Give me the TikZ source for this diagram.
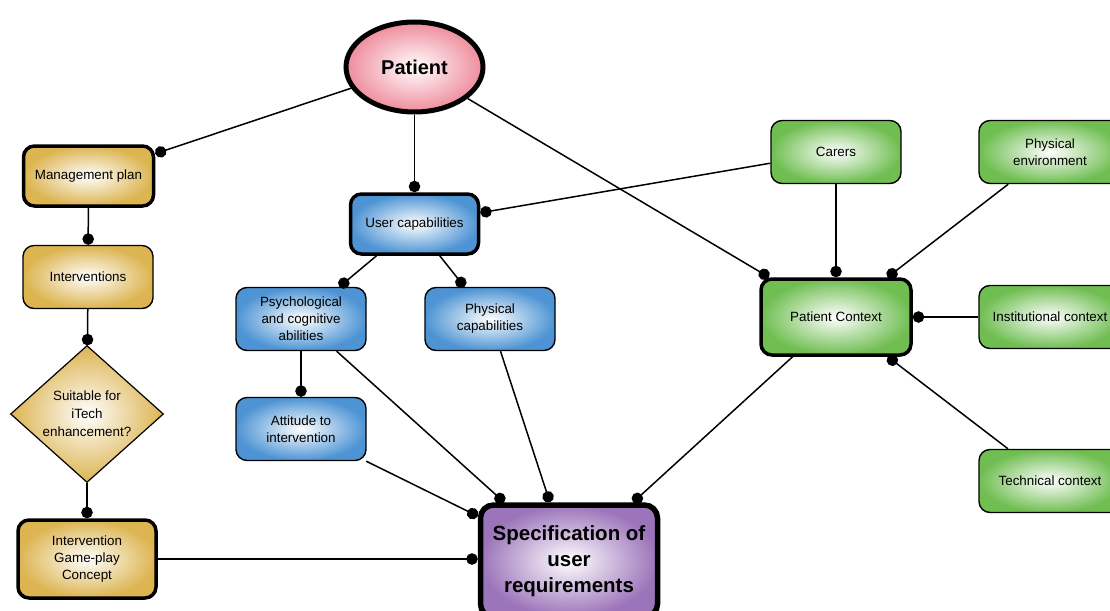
\documentclass[tikz,border=0pt]{standalone}
\usepackage{fontspec}
\setmainfont{Liberation Sans}
\usetikzlibrary{shapes.geometric,arrows.meta}
\definecolor{goldc}{RGB}{220,180,80}
\definecolor{bluec}{RGB}{78,148,212}
\definecolor{greenc}{RGB}{112,190,82}
\definecolor{pinkc}{RGB}{238,140,156}
\definecolor{purplec}{RGB}{156,116,186}
\tikzset{
  box/.style={rounded corners=11pt, draw=black, line width=1.4pt, align=center,
    font=\fontsize{13.4}{17}\selectfont, inner sep=2pt,
    minimum width=130pt, minimum height=63pt},
  heavy/.style={line width=3.5pt},
  goldfill/.style={inner color=white, outer color=goldc},
  bluefill/.style={inner color=white, outer color=bluec},
  greenfill/.style={inner color=white, outer color=greenc},
  link/.style={line width=1.5pt, -{Circle[length=11.5pt,width=11.5pt]}},
}
\begin{document}
\begin{tikzpicture}[x=1pt,y=-1pt]
  \clip (0,0) rectangle (1110,610);
  \fill[white] (0,0) rectangle (1110,610);

  % central patient node
  \node[ellipse, draw=black, line width=5pt, inner color=white, outer color=pinkc,
        minimum width=137pt, minimum height=90pt,
        font=\fontsize{20}{24}\selectfont\bfseries] (patient) at (414.5,67) {Patient};

  % management branch
  \node[box, heavy, goldfill, minimum width=130pt, minimum height=60pt] (mp) at (88.5,176) {Management plan};
  \node[box, goldfill] (int) at (88,277) {Interventions};
  \node[diamond, draw=black, line width=1.2pt, goldfill, aspect=1.12, inner sep=0pt,
        minimum width=153pt, minimum height=137pt, align=center,
        font=\fontsize{13.4}{18}\selectfont] (dia) at (87,414) {Suitable for\\iTech\\enhancement?};
  \node[box, heavy, goldfill, minimum width=138pt, minimum height=78pt] (igc) at (87,559) {Intervention\\Game-play\\Concept};

  % user capabilities branch
  \node[box, heavy, bluefill, minimum width=128pt, minimum height=60pt] (uc) at (414.5,224) {User capabilities};
  \node[box, bluefill] (psych) at (301,319) {Psychological\\and cognitive\\abilities};
  \node[box, bluefill] (physcap) at (490,319) {Physical\\capabilities};
  \node[box, bluefill] (att) at (301,429) {Attitude to\\intervention};

  % requirements
  \node[rounded corners=13pt, draw=black, line width=5.5pt, inner color=white, outer color=purplec,
        minimum width=177pt, minimum height=112pt, align=center,
        font=\fontsize{20.5}{26}\selectfont\bfseries] (spec) at (569,561) {Specification of\\user\\requirements};

  % context branch
  \node[box, greenfill] (carers) at (836,152) {Carers};
  \node[box, greenfill, minimum width=142pt] (pe) at (1050,152) {Physical\\environment};
  \node[box, heavy, greenfill, minimum width=150pt, minimum height=76pt] (pc) at (836,317) {Patient Context};
  \node[box, greenfill, minimum width=142pt] (inst) at (1050,317) {Institutional context};
  \node[box, greenfill, minimum width=142pt] (tech) at (1050,481) {Technical context};

  % connectors
  \draw[link] (patient) -- (mp);
  \draw[link] (patient) -- (uc);
  \draw[link] (patient) -- (pc);
  \draw[link] (mp) -- (int);
  \draw[link] (int) -- (dia);
  \draw[link] (dia) -- (igc);
  \draw[link] (igc.east) -- (igc.east -| spec.west);
  \draw[link] (carers) -- (uc);
  \draw[link] (carers) -- (pc);
  \draw[link] (pe) -- (pc);
  \draw[link] (inst) -- (pc);
  \draw[link] (tech) -- (pc);
  \draw[link] (uc) -- (psych);
  \draw[link] (uc) -- (physcap);
  \draw[link] (psych) -- (att);
  \draw[link] (att) -- (spec);
  \draw[link] (psych) -- (spec);
  \draw[link] (physcap) -- (spec);
  \draw[link] (pc) -- (spec);
\end{tikzpicture}
\end{document}
